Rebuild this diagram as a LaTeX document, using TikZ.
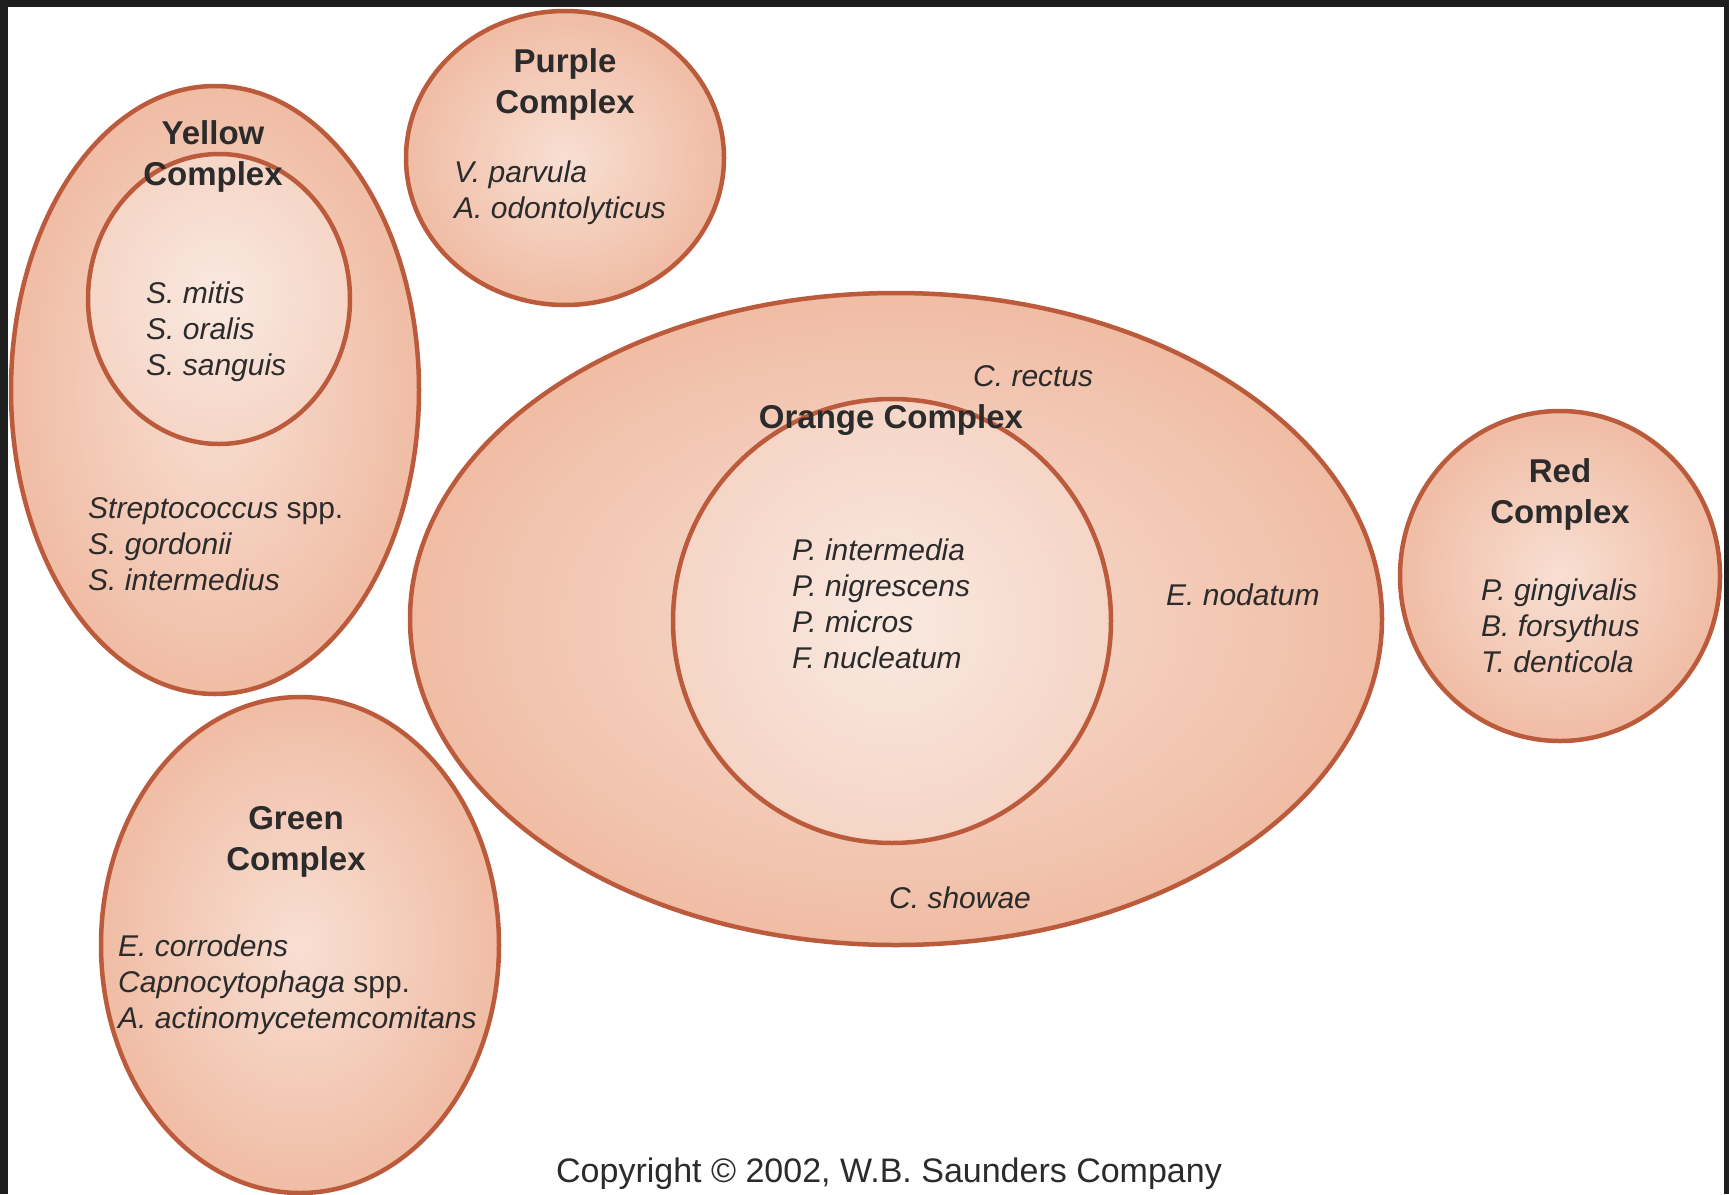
\documentclass[tikz,border=0pt]{standalone}
\usepackage{fontspec}
\setmainfont{Liberation Sans}
\usetikzlibrary{shapes.geometric,positioning}
\definecolor{cxrim}{HTML}{F0BCA4}
\definecolor{cxmid}{HTML}{F8DFD3}
\definecolor{cxinrim}{HTML}{F5D5C6}
\definecolor{cxin}{HTML}{FAE9E1}
\definecolor{cxline}{HTML}{BC5A3C}
\definecolor{cxtext}{HTML}{2B2B2B}
\definecolor{cxframe}{HTML}{1E1E1E}
\tikzset{x=1pt,y=-1pt}
\tikzset{complexout/.style={ellipse, draw=cxline, line width=4.5pt, inner color=cxmid, outer color=cxrim, inner sep=0pt}}
\tikzset{complexin/.style={complexout, inner color=cxin, outer color=cxinrim}}
\tikzset{cxhead/.style={font=\fontsize{33}{41}\selectfont\bfseries, align=center, text=cxtext, inner sep=0pt}}
\tikzset{cxtaxa/.style={font=\fontsize{30}{36}\selectfont\itshape, align=left, anchor=west, text=cxtext, inner sep=0pt}}

\begin{document}
\begin{tikzpicture}
\useasboundingbox (0,0) rectangle (1729,1194);
\fill[cxframe] (0,0) rectangle (1729,1194);
\fill[white] (8,7) rectangle (1724,1194);

\node[complexout, minimum width=408pt, minimum height=608pt] (yelout) at (215,390) {};
\node[complexin, minimum width=262pt, minimum height=290pt] (yelin) at (219,299) {};
\node[complexout, minimum width=318pt, minimum height=294pt] (purple) at (565,158) {};
\node[complexout, minimum width=972pt, minimum height=652pt] (orgout) at (896,619) {};
\node[complexin, minimum width=438pt, minimum height=444pt] (orgin) at (892,621) {};
\node[complexout, minimum width=320pt, minimum height=330pt] (red) at (1560,576) {};
\node[complexout, minimum width=398pt, minimum height=496pt] (green) at (300,945) {};

\node[cxhead] (yelhead) at (213,156) {Yellow\\Complex};
\node[cxtaxa] (yelinlist) at (146,332) {S. mitis\\S. oralis\\S. sanguis};
\node[cxtaxa] (yeloutlist) at (88,544) {Streptococcus \textup{spp.}\\S. gordonii\\S. intermedius};

\node[cxhead] (purhead) at (565,84) {Purple\\Complex};
\node[cxtaxa] (purlist) at (454,193) {V. parvula\\A. odontolyticus};

\node[cxtaxa] (rectus) at (973,376) {C. rectus};
\node[cxhead] (orghead) at (891,420) {Orange Complex};
\node[cxtaxa] (orginlist) at (792,604) {P. intermedia\\P. nigrescens\\P. micros\\F. nucleatum};
\node[cxtaxa] (nodatum) at (1166,595) {E. nodatum};
\node[cxtaxa] (showae) at (889,898) {C. showae};

\node[cxhead] (redhead) at (1560,494) {Red\\Complex};
\node[cxtaxa] (redlist) at (1481,626) {P. gingivalis\\B. forsythus\\T. denticola};

\node[cxhead] (grnhead) at (296,842) {Green\\Complex};
\node[cxtaxa] (grnlist) at (118,985) {E. corrodens\\Capnocytophaga \textup{spp.}\\A. actinomycetemcomitans};

\node[font=\fontsize{34}{41}\selectfont, text=cxtext, inner sep=0pt] (copyright) at (889,1174) {Copyright © 2002, W.B. Saunders Company};
\end{tikzpicture}
\end{document}
